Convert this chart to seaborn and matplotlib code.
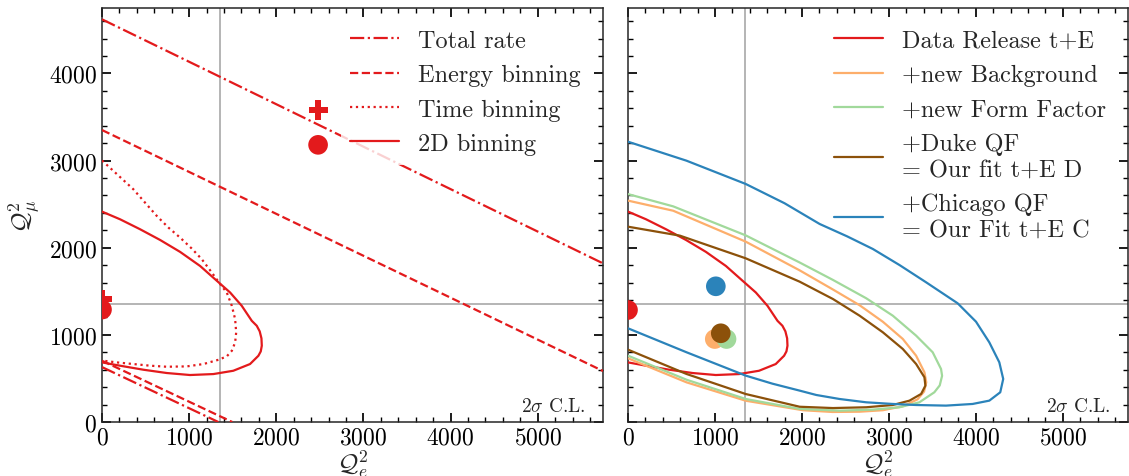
import numpy as np
import pandas as pd
import matplotlib
matplotlib.use("Agg")
import matplotlib.pyplot as plt
from matplotlib.ticker import MultipleLocator
from matplotlib.lines import Line2D
import seaborn as sns

# ---- data ----
# left panel: the "total rate" and "energy" bands are two straight edges each
total_up_x = [0, 5750]
total_up_y = [4620, 1820]
total_lo_x = [0, 1335]
total_lo_y = [630, 0]
energy_up_x = [0, 5750]
energy_up_y = [3350, 585]
energy_lo_x = [0, 1495]
energy_lo_y = [703, 0]

time_x = [0, 111, 360, 494, 628, 762, 896, 1030, 1145, 1260, 1356, 1432, 1490,
          1528, 1540, 1528, 1490, 1432, 1337, 1164, 973, 743, 552, 360, 168, 0]
time_y = [3000, 2899, 2670, 2517, 2365, 2231, 2116, 1990, 1868, 1715, 1582, 1486, 1333,
          1180, 1028, 913, 817, 753, 714, 665, 638, 634, 646, 665, 684, 705]

# 2D binning == Data Release t+E
red_x = [0, 207, 436, 666, 896, 1126, 1318, 1470, 1604, 1719, 1776, 1810, 1830, 1834,
         1822, 1795, 1699, 1507, 1278, 1010, 743, 474, 207, 0]
red_y = [2414, 2326, 2212, 2089, 1952, 1790, 1620, 1486, 1333, 1161, 1104, 1040, 960, 875,
         810, 760, 665, 588, 550, 539, 562, 600, 646, 684]

orange_x = [0, 520, 1354, 1974, 2357, 2663, 2931, 3160, 3313, 3409, 3430, 3405, 3330,
            3160, 2930, 2663, 2353, 2012, 1354, 673, 0]
orange_y = [2540, 2424, 2069, 1740, 1520, 1340, 1150, 953, 761, 570, 455, 350, 260,
            180, 135, 118, 115, 135, 244, 455, 731]

green_x = [0, 520, 1354, 1974, 2357, 2739, 3045, 3313, 3504, 3600, 3612, 3585, 3523,
           3351, 3122, 2816, 2433, 1974, 1354, 673, 0]
green_y = [2615, 2474, 2141, 1830, 1630, 1420, 1220, 991, 800, 608, 530, 420, 341,
           226, 169, 142, 130, 150, 264, 485, 761]

brown_x = [0, 597, 1354, 1974, 2357, 2663, 2931, 3160, 3313, 3409, 3420, 3371, 3237,
           3045, 2739, 2357, 1974, 1354, 673, 0]
brown_y = [2241, 2138, 1878, 1610, 1411, 1220, 1029, 838, 666, 513, 417, 322, 245,
           195, 169, 160, 175, 321, 551, 830]

blue_x = [0, 673, 1354, 1800, 2204, 2520, 2816, 3122, 3428, 3791, 4002, 4155, 4270, 4315,
          4281, 4155, 3963, 3657, 3313, 3045, 2739, 2433, 2165, 1974, 1660, 1354, 673, 0]
blue_y = [3216, 2998, 2731, 2510, 2272, 2130, 1985, 1801, 1603, 1362, 1151, 914, 685, 494,
          341, 245, 207, 188, 195, 207, 226, 264, 310, 360, 440, 532, 800, 1075]

# best-fit points
left_plus_x = [2480, 0]
left_plus_y = [3580, 1410]
left_dot_x = [2480, 0]
left_dot_y = [3180, 1290]

fit_labels = ["Data Release t+E", "+new Background", "+new Form Factor",
              "+Duke QF\n= Our fit t+E D", "+Chicago QF\n= Our Fit t+E C"]
fit_colors = ["#e31a1c", "#fdae6b", "#a1d99b", "#8c510a", "#2b83ba"]
fit_x = [0, 998, 1133, 1067, 1010]
fit_y = [1285, 952, 952, 1018, 1557]

sm_x = 1350
sm_y = 1350
red = "#e31a1c"

# ---- style ----
sns.set_theme(style="ticks")
plt.rcParams.update({
    "font.family": "serif",
    "font.serif": ["cmr10"],
    "mathtext.fontset": "cm",
    "axes.formatter.use_mathtext": True,
    "axes.unicode_minus": False,
    "font.size": 17,
    "axes.linewidth": 1.1,
    "xtick.direction": "in",
    "ytick.direction": "in",
    "xtick.top": True,
    "ytick.right": True,
    "xtick.major.size": 6.5,
    "ytick.major.size": 6.5,
    "xtick.minor.size": 3.5,
    "ytick.minor.size": 3.5,
    "xtick.minor.visible": True,
    "ytick.minor.visible": True,
    "xtick.labelsize": 17,
    "ytick.labelsize": 17,
    "xtick.color": "black",
    "ytick.color": "black",
})

fig = plt.figure(figsize=(11.29, 4.77), dpi=100)
ax1 = fig.add_axes([102 / 1129, 54 / 477, 501 / 1129, 414 / 477])
ax2 = fig.add_axes([628 / 1129, 54 / 477, 500 / 1129, 414 / 477], sharey=ax1)

lw = 1.6

def curve(ax, x, y, color, ls="-"):
    sns.lineplot(x=x, y=y, ax=ax, sort=False, estimator=None, color=color,
                 linestyle=ls, linewidth=lw, zorder=3)

# left panel
curve(ax1, total_up_x, total_up_y, red, "-.")
curve(ax1, total_lo_x, total_lo_y, red, "-.")
curve(ax1, energy_up_x, energy_up_y, red, "--")
curve(ax1, energy_lo_x, energy_lo_y, red, "--")
curve(ax1, time_x, time_y, red, ":")
curve(ax1, red_x, red_y, red, "-")
sns.scatterplot(x=left_plus_x, y=left_plus_y, ax=ax1, marker="P", s=190,
                color=red, edgecolor="none", zorder=4)
sns.scatterplot(x=left_dot_x, y=left_dot_y, ax=ax1, marker="o", s=200,
                color=red, edgecolor="none", zorder=4)

h1 = [Line2D([], [], color=red, lw=lw, ls=s) for s in ["-.", "--", ":", "-"]]
ax1.legend(h1, ["Total rate", "Energy binning", "Time binning", "2D binning"],
           loc="upper right", fontsize=17.5, frameon=True, framealpha=0.8,
           edgecolor="none", fancybox=False)

# right panel
fit_curves = [(red_x, red_y), (orange_x, orange_y), (green_x, green_y),
              (brown_x, brown_y), (blue_x, blue_y)]
for (cx, cy), c in zip(fit_curves, fit_colors):
    curve(ax2, cx, cy, c)
for fx, fy, c in zip(fit_x, fit_y, fit_colors):
    sns.scatterplot(x=[fx], y=[fy], ax=ax2, marker="o", s=200, color=c,
                    edgecolor="none", zorder=4)

h2 = [Line2D([], [], color=c, lw=lw) for c in fit_colors]
ax2.legend(h2, fit_labels, loc="upper right", fontsize=17.5, frameon=False)

for ax in (ax1, ax2):
    ax.axvline(sm_x, color="#a0a0a0", lw=1.1, zorder=1)
    ax.axhline(sm_y, color="#a0a0a0", lw=1.1, zorder=1)
    ax.set_xlim(0, 5750)
    ax.set_ylim(0, 4750)
    ax.xaxis.set_major_locator(MultipleLocator(1000))
    ax.xaxis.set_minor_locator(MultipleLocator(200))
    ax.yaxis.set_major_locator(MultipleLocator(1000))
    ax.yaxis.set_minor_locator(MultipleLocator(200))
    ax.set_xticks(range(0, 6000, 1000))
    ax.set_xlabel(r"$\mathcal{Q}_e^2$", fontsize=18, labelpad=-1)
    ax.text(0.965, 0.018, r"$2\sigma$ C.L.", transform=ax.transAxes,
            ha="right", va="bottom", fontsize=14)

ax1.set_ylabel(r"$\mathcal{Q}_\mu^2$", fontsize=18, labelpad=4)
ax2.set_ylabel("")
ax2.tick_params(labelleft=False)

fig.savefig("out.png", dpi=100)
